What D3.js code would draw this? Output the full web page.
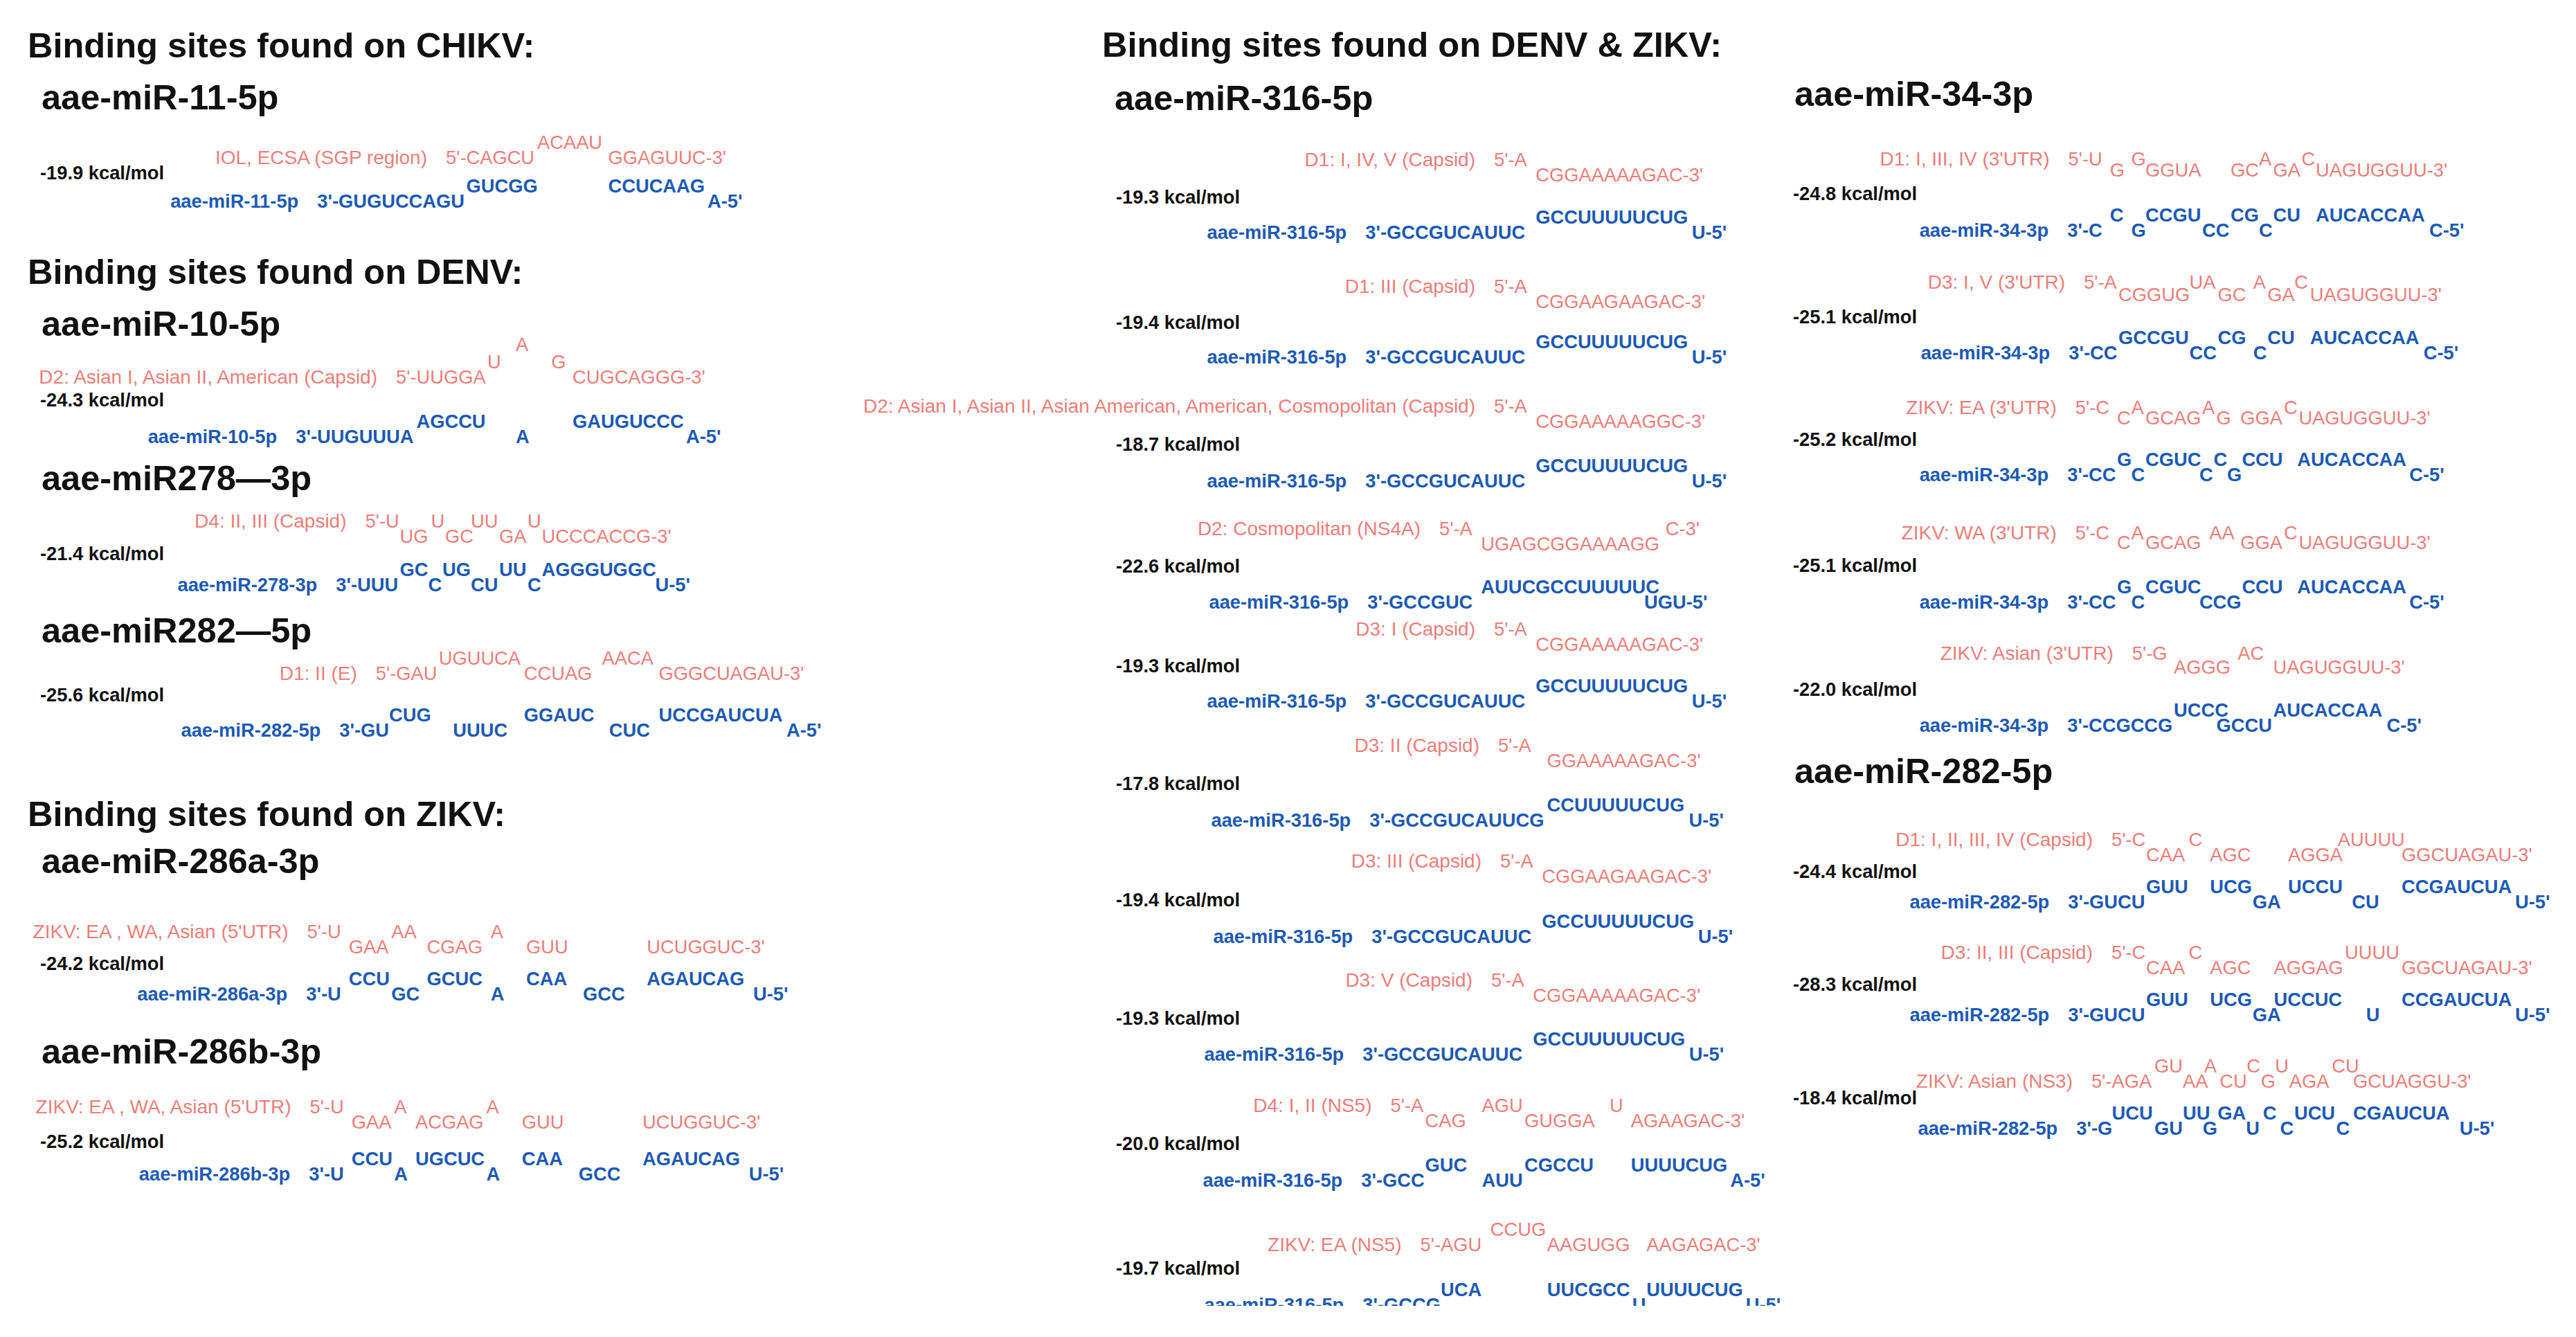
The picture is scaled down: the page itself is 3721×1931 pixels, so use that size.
<!DOCTYPE html>
<html>
<head>
<meta charset="utf-8">
<script src="https://cdnjs.cloudflare.com/ajax/libs/d3/7.8.5/d3.min.js"></script>
<style>
  body { margin: 0; background: #fff; overflow: hidden; }
  text { font-family: "Liberation Sans", Arial, Helvetica, sans-serif; }
</style>
</head>
<body>
<div id="fig"></div>
<script>
// ---- data ----
var titles = ["Binding sites found on CHIKV:", "Binding sites found on DENV:",
              "Binding sites found on ZIKV:", "Binding sites found on DENV & ZIKV:"]

var headings = ["aae-miR-11-5p", "aae-miR-10-5p", "aae-miR278\u20143p", "aae-miR282\u20145p",
                "aae-miR-286a-3p", "aae-miR-286b-3p", "aae-miR-316-5p", "aae-miR-34-3p", "aae-miR-282-5p"]

// rows: r2/r1 = unpaired target, r0 = paired target, b0 = paired miRNA, b1 = unpaired miRNA
// each token is "alignment column:bases"
var chikvSites = [
  {id: "c11", mir: "aae-miR-11-5p", target: "IOL, ECSA (SGP region)", dg: -19.9,
   r1: "14:ACAAU", r0: "9:CAGCU 19:GGAGUUC", b0: "9:GUCGG 19:CCUCAAG", b1: "0:GUGUCCAGU 26:A"}
]

var denvSites = [
  {id: "d10", mir: "aae-miR-10-5p", target: "D2: Asian I, Asian II, American (Capsid)", dg: -24.3,
   r2: "14:A", r1: "12:U 16.5:G", r0: "7:UUGGA 18:CUGCAGGG", b0: "7:AGCCU 18:GAUGUCCC", b1: "0:UUGUUUA 14:A 26:A"},
  {id: "d278", mir: "aae-miR-278-3p", target: "D4: II, III (Capsid)", dg: -21.4,
   r1: "2:U 5.2:U 8:UU 12:U", r0: "3:UG 6.2:GC 10:GA 13:UCCCACCG", b0: "3:GC 6:UG 10:UU 13:AGGGUGGC", b1: "0:UUU 5:C 8:CU 12:C 21:U"},
  {id: "d282", mir: "aae-miR-282-5p", target: "D1: II (E)", dg: -25.6,
   r1: "5.5:UGUUCA 17:AACA", r0: "2.5:GAU 11.5:CCUAG 21:GGGCUAGAU", b0: "2:CUG 11.5:GGAUC 21:UCCGAUCUA", b1: "0:GU 6.5:UUUC 17.5:CUC 30:A"}
]

var zikvSites = [
  {id: "z286a", mir: "aae-miR-286a-3p", target: "ZIKV: EA , WA, Asian (5'UTR)", dg: -24.2,
   r1: "0:U 4.5:AA 11.5:A", r0: "1.5:GAA 7:CGAG 14:GUU 22.5:UCUGGUC", b0: "1.5:CCU 7:GCUC 14:CAA 22.5:AGAUCAG", b1: "0:U 4.5:GC 11.5:A 18:GCC 30:U"},
  {id: "z286b", mir: "aae-miR-286b-3p", target: "ZIKV: EA , WA, Asian (5'UTR)", dg: -25.2,
   r1: "0:U 4.5:A 11:A", r0: "1.5:GAA 6:ACGAG 13.5:GUU 22:UCUGGUC", b0: "1.5:CCU 6:UGCUC 13.5:CAA 22:AGAUCAG", b1: "0:U 4.5:A 11:A 17.5:GCC 29.5:U"}
]

var miR316Sites = [
  {id: "m1", mir: "aae-miR-316-5p", target: "D1: I, IV, V (Capsid)", dg: -19.3,
   r1: "9:A", r0: "10.5:CGGAAAAAGAC", b0: "10.5:GCCUUUUUCUG", b1: "0:GCCGUCAUUC 21.5:U"},
  {id: "m2", mir: "aae-miR-316-5p", target: "D1: III (Capsid)", dg: -19.4,
   r1: "9:A", r0: "10.5:CGGAAGAAGAC", b0: "10.5:GCCUUUUUCUG", b1: "0:GCCGUCAUUC 21.5:U"},
  {id: "m3", mir: "aae-miR-316-5p", target: "D2: Asian I, Asian II, Asian American, American, Cosmopolitan (Capsid)", dg: -18.7,
   r1: "9:A", r0: "10.5:CGGAAAAAGGC", b0: "10.5:GCCUUUUUCUG", b1: "0:GCCGUCAUUC 21.5:U"},
  {id: "m4", mir: "aae-miR-316-5p", target: "D2: Cosmopolitan (NS4A)", dg: -22.6,
   r1: "5:A 19.5:C", r0: "6.5:UGAGCGGAAAAGG", b0: "6.5:AUUCGCCUUUUUC", b1: "0:GCCGUC 18:UGU"},
  {id: "m5", mir: "aae-miR-316-5p", target: "D3: I (Capsid)", dg: -19.3,
   r1: "9:A", r0: "10.5:CGGAAAAAGAC", b0: "10.5:GCCUUUUUCUG", b1: "0:GCCGUCAUUC 21.5:U"},
  {id: "m6", mir: "aae-miR-316-5p", target: "D3: II (Capsid)", dg: -17.8,
   r1: "9:A", r0: "11:GGAAAAAGAC", b0: "11:CCUUUUUCUG", b1: "0:GCCGUCAUUCG 21:U"},
  {id: "m7", mir: "aae-miR-316-5p", target: "D3: III (Capsid)", dg: -19.4,
   r1: "9:A", r0: "10.5:CGGAAGAAGAC", b0: "10.5:GCCUUUUUCUG", b1: "0:GCCGUCAUUC 21.5:U"},
  {id: "m8", mir: "aae-miR-316-5p", target: "D3: V (Capsid)", dg: -19.3,
   r1: "9:A", r0: "10.5:CGGAAAAAGAC", b0: "10.5:GCCUUUUUCUG", b1: "0:GCCGUCAUUC 21.5:U"},
  {id: "m9", mir: "aae-miR-316-5p", target: "D4: I, II (NS5)", dg: -20.0,
   r1: "2:A 7:AGU 16:U", r0: "3:CAG 10:GUGGA 17.5:AGAAGAC", b0: "3:GUC 10:CGCCU 17.5:UUUUCUG", b1: "0:GCC 7:AUU 24.5:A"},
  {id: "m10", mir: "aae-miR-316-5p", target: "ZIKV: EA (NS5)", dg: -19.7,
   r1: "7.5:CCUG", r0: "4:AGU 11.5:AAGUGG 18.5:AAGAGAC", b0: "4:UCA 11.5:UUCGCC 18.5:UUUUCUG", b1: "0:GCCG 17.5:U 25.5:U"}
]

var miR34Sites = [
  {id: "k1", mir: "aae-miR-34-3p", target: "D1: I, III, IV (3'UTR)", dg: -24.8,
   r1: "0:U 3:G 12:A 15:C", r0: "1.5:G 4:GGUA 10:GC 13:GA 16:UAGUGGUU", b0: "1.5:C 4:CCGU 10:CG 13:CU 16:AUCACCAA", b1: "0:C 3:G 8:CC 12:C 24:C"},
  {id: "k2", mir: "aae-miR-34-3p", target: "D3: I, V (3'UTR)", dg: -25.1,
   r1: "1:A 7:UA 11.5:A 14.4:C", r0: "2:CGGUG 9:GC 12.5:GA 15.5:UAGUGGUU", b0: "2:GCCGU 9:CG 12.5:CU 15.5:AUCACCAA", b1: "0:CC 7:CC 11.5:C 23.5:C"},
  {id: "k3", mir: "aae-miR-34-3p", target: "ZIKV: EA (3'UTR)", dg: -25.2,
   r1: "0.5:C 3:A 8:A 13.75:C", r0: "2:C 4:GCAG 9:G 10.7:GGA 14.8:UAGUGGUU", b0: "2:G 4:CGUC 8.8:C 10.8:CCU 14.7:AUCACCAA", b1: "0:CC 3:C 7.8:C 9.75:G 22.6:C"},
  {id: "k4", mir: "aae-miR-34-3p", target: "ZIKV: WA (3'UTR)", dg: -25.1,
   r1: "0.5:C 3:A 8.5:AA 13.75:C", r0: "2:C 4:GCAG 10.7:GGA 14.8:UAGUGGUU", b0: "2:G 4:CGUC 10.8:CCU 14.7:AUCACCAA", b1: "0:CC 3:C 7.8:CCG 22.6:C"},
  {id: "k5", mir: "aae-miR-34-3p", target: "ZIKV: Asian (3'UTR)", dg: -22.0,
   r1: "4.5:G 10.5:AC", r0: "6:AGGG 13:UAGUGGUU", b0: "6:UCCC 13:AUCACCAA", b1: "0:CCGCCG 9:GCCU 21:C"}
]

var miR282Sites = [
  {id: "p1", mir: "aae-miR-282-5p", target: "D1: I, II, III, IV (Capsid)", dg: -24.4,
   r1: "3:C 7:C 17.5:AUUUU", r0: "4:CAA 8.5:AGC 14:AGGA 22:GGCUAGAU", b0: "4:GUU 8.5:UCG 14:UCCU 22:CCGAUCUA", b1: "0:GUCU 11.5:GA 18.5:CU 30:U"},
  {id: "p2", mir: "aae-miR-282-5p", target: "D3: II, III (Capsid)", dg: -28.3,
   r1: "3:C 7:C 18:UUUU", r0: "4:CAA 8.5:AGC 13:AGGAG 22:GGCUAGAU", b0: "4:GUU 8.5:UCG 13:UCCUC 22:CCGAUCUA", b1: "0:GUCU 11.5:GA 19.5:U 30:U"},
  {id: "p3", mir: "aae-miR-282-5p", target: "ZIKV: Asian (NS3)", dg: -18.4,
   r1: "4:GU 7.5:A 10.5:C 12.5:U 16.5:CU", r0: "1:AGA 6:AA 8.6:CU 11.5:G 13.5:AGA 18:GCUAGGU",
   b0: "1:UCU 6:UU 8.45:GA 11.65:C 13.85:UCU 18:CGAUCUA", b1: "0:G 4:GU 7.4:G 10.45:U 12.85:C 16.8:C 25.5:U"}
]

// ---- layout: [kind, ref, advance, pair gap, grid origin, lift] ----
var leftLayout = [
  ["title", 0, 83], ["head", 0, 75], ["site", "c11", 79, 41, 489],
  ["title", 1, 173], ["head", 1, 75], ["site", "d10", 69, 64, 458],
  ["head", 2, 154], ["site", "d278", 76, 48, 516],
  ["head", 3, 144], ["site", "d282", 54, 60, 521],
  ["title", 2, 211], ["head", 4, 68], ["site", "z286a", 116, 46, 473],
  ["head", 5, 159], ["site", "z286b", 94, 53, 477]
]
var middleLayout = [
  ["title", 3, 82], ["head", 6, 77],
  ["site", "m1", 103, 61, 2003], ["site", "m2", 183, 58, 2003], ["site", "m3", 173, 64, 2003],
  ["site", "m4", 177, 62, 2006], ["site", "m5", 145, 60, 2003], ["site", "m6", 168, 64, 2009],
  ["site", "m7", 167, 65, 2012], ["site", "m8", 172, 63, 1999], ["site", "m9", 181, 64, 1997],
  ["site", "m10", 179, 65, 1999]
]
var rightLayout = [
  ["head", 7, 153],
  ["site", "k1", 102, 65, 3017, 16], ["site", "k2", 180, 62, 3019, 18], ["site", "k3", 178, 60, 3017, 15],
  ["site", "k4", 180, 64, 3017, 14], ["site", "k5", 180, 62, 3017, 20],
  ["head", 8, 158],
  ["site", "p1", 113, 46, 3018], ["site", "p2", 163, 46, 3018], ["site", "p3", 164, 46, 3030]
]
var columns = [
  {titleX: 40, headX: 60, energyX: 58, items: leftLayout},
  {titleX: 1592, headX: 1610, energyX: 1612, items: middleLayout},
  {titleX: 2590, headX: 2592, energyX: 2590, items: rightLayout}
]

// ---- drawing ----
var W = 3721, H = 1931
var COL = 20.5, SEQ = 27.3, LABEL = 28, BIG = 50.5, GAP = 27
var RED = "#ee7e79", BLUE = "#1c5ab5"

var svg = d3.select("#fig").append("svg")
  .attr("width", W)
  .attr("height", H)
svg.append("rect").attr("width", W).attr("height", H).attr("fill", "#fff")
svg.append("defs").append("clipPath").attr("id", "cut")
  .append("rect").attr("width", W).attr("height", 1886)
var root = svg.append("g").attr("clip-path", "url(#cut)")

var siteById = {}
chikvSites.concat(denvSites, zikvSites, miR316Sites, miR34Sites, miR282Sites)
  .forEach(function(s) { siteById[s.id] = s })

function runs(str, row) {
  if (!str) return []
  return str.split(" ").map(function(t) {
    var p = t.split(":")
    return {row: row, col: +p[0], seq: p[1]}
  })
}

function strand(g, list, x, rowY, color, weight, head, tail, label) {
  var first = d3.least(list, d => d.col)
  var last = d3.greatest(list, d => d.col + d.seq.length)
  var t = g.append("g")
    .attr("fill", color)
    .attr("font-weight", weight)
    .attr("font-size", SEQ)
  t.selectAll("text.nt")
    .data(list)
    .join("text")
      .attr("class", "nt")
      .attr("x", d => x(d.col))
      .attr("y", d => rowY[d.row])
      .text(d => d === last ? d.seq + tail : d.seq)
  var pre = t.append("text")
    .attr("x", x(first.col))
    .attr("y", rowY[first.row])
    .attr("text-anchor", "end")
    .text(head)
  var w = pre.node().getComputedTextLength()
  t.append("text")
    .attr("x", x(first.col) - w - GAP)
    .attr("y", rowY[first.row])
    .attr("text-anchor", "end")
    .attr("font-size", weight == "bold" ? SEQ : LABEL)
    .text(label)
}

function drawSite(g, s, y0, pair, x0, lift, energyX) {
  var x = d3.scaleLinear().domain([0, 1]).range([x0, x0 + COL])
  var up = lift || 22
  var rowY = {r2: y0 - up - 25, r1: y0 - up, r0: y0, b0: y0 + pair, b1: y0 + pair + 22}
  var tgt = runs(s.r2, "r2").concat(runs(s.r1, "r1"), runs(s.r0, "r0"))
  var mir = runs(s.b0, "b0").concat(runs(s.b1, "b1"))
  strand(g, tgt, x, rowY, RED, "normal", "5'-", "-3'", s.target)
  strand(g, mir, x, rowY, BLUE, "bold", "3'-", "-5'", s.mir)
  g.append("text")
    .attr("x", energyX)
    .attr("y", y0 + pair / 2 + 1)
    .attr("font-size", SEQ)
    .attr("font-weight", "bold")
    .attr("fill", "#111")
    .text(s.dg.toFixed(1) + " kcal/mol")
}

columns.forEach(function(c) {
  var g = root.append("g")
  var y = 0
  c.items.forEach(function(it) {
    y += it[2]
    if (it[0] == "title" || it[0] == "head") {
      g.append("text")
        .attr("x", it[0] == "title" ? c.titleX : c.headX)
        .attr("y", y)
        .attr("font-size", BIG)
        .attr("font-weight", "bold")
        .attr("fill", "#111")
        .text(it[0] == "title" ? titles[it[1]] : headings[it[1]])
    } else {
      drawSite(g, siteById[it[1]], y, it[3], it[4], it[5], c.energyX)
    }
  })
})
</script>
</body>
</html>
